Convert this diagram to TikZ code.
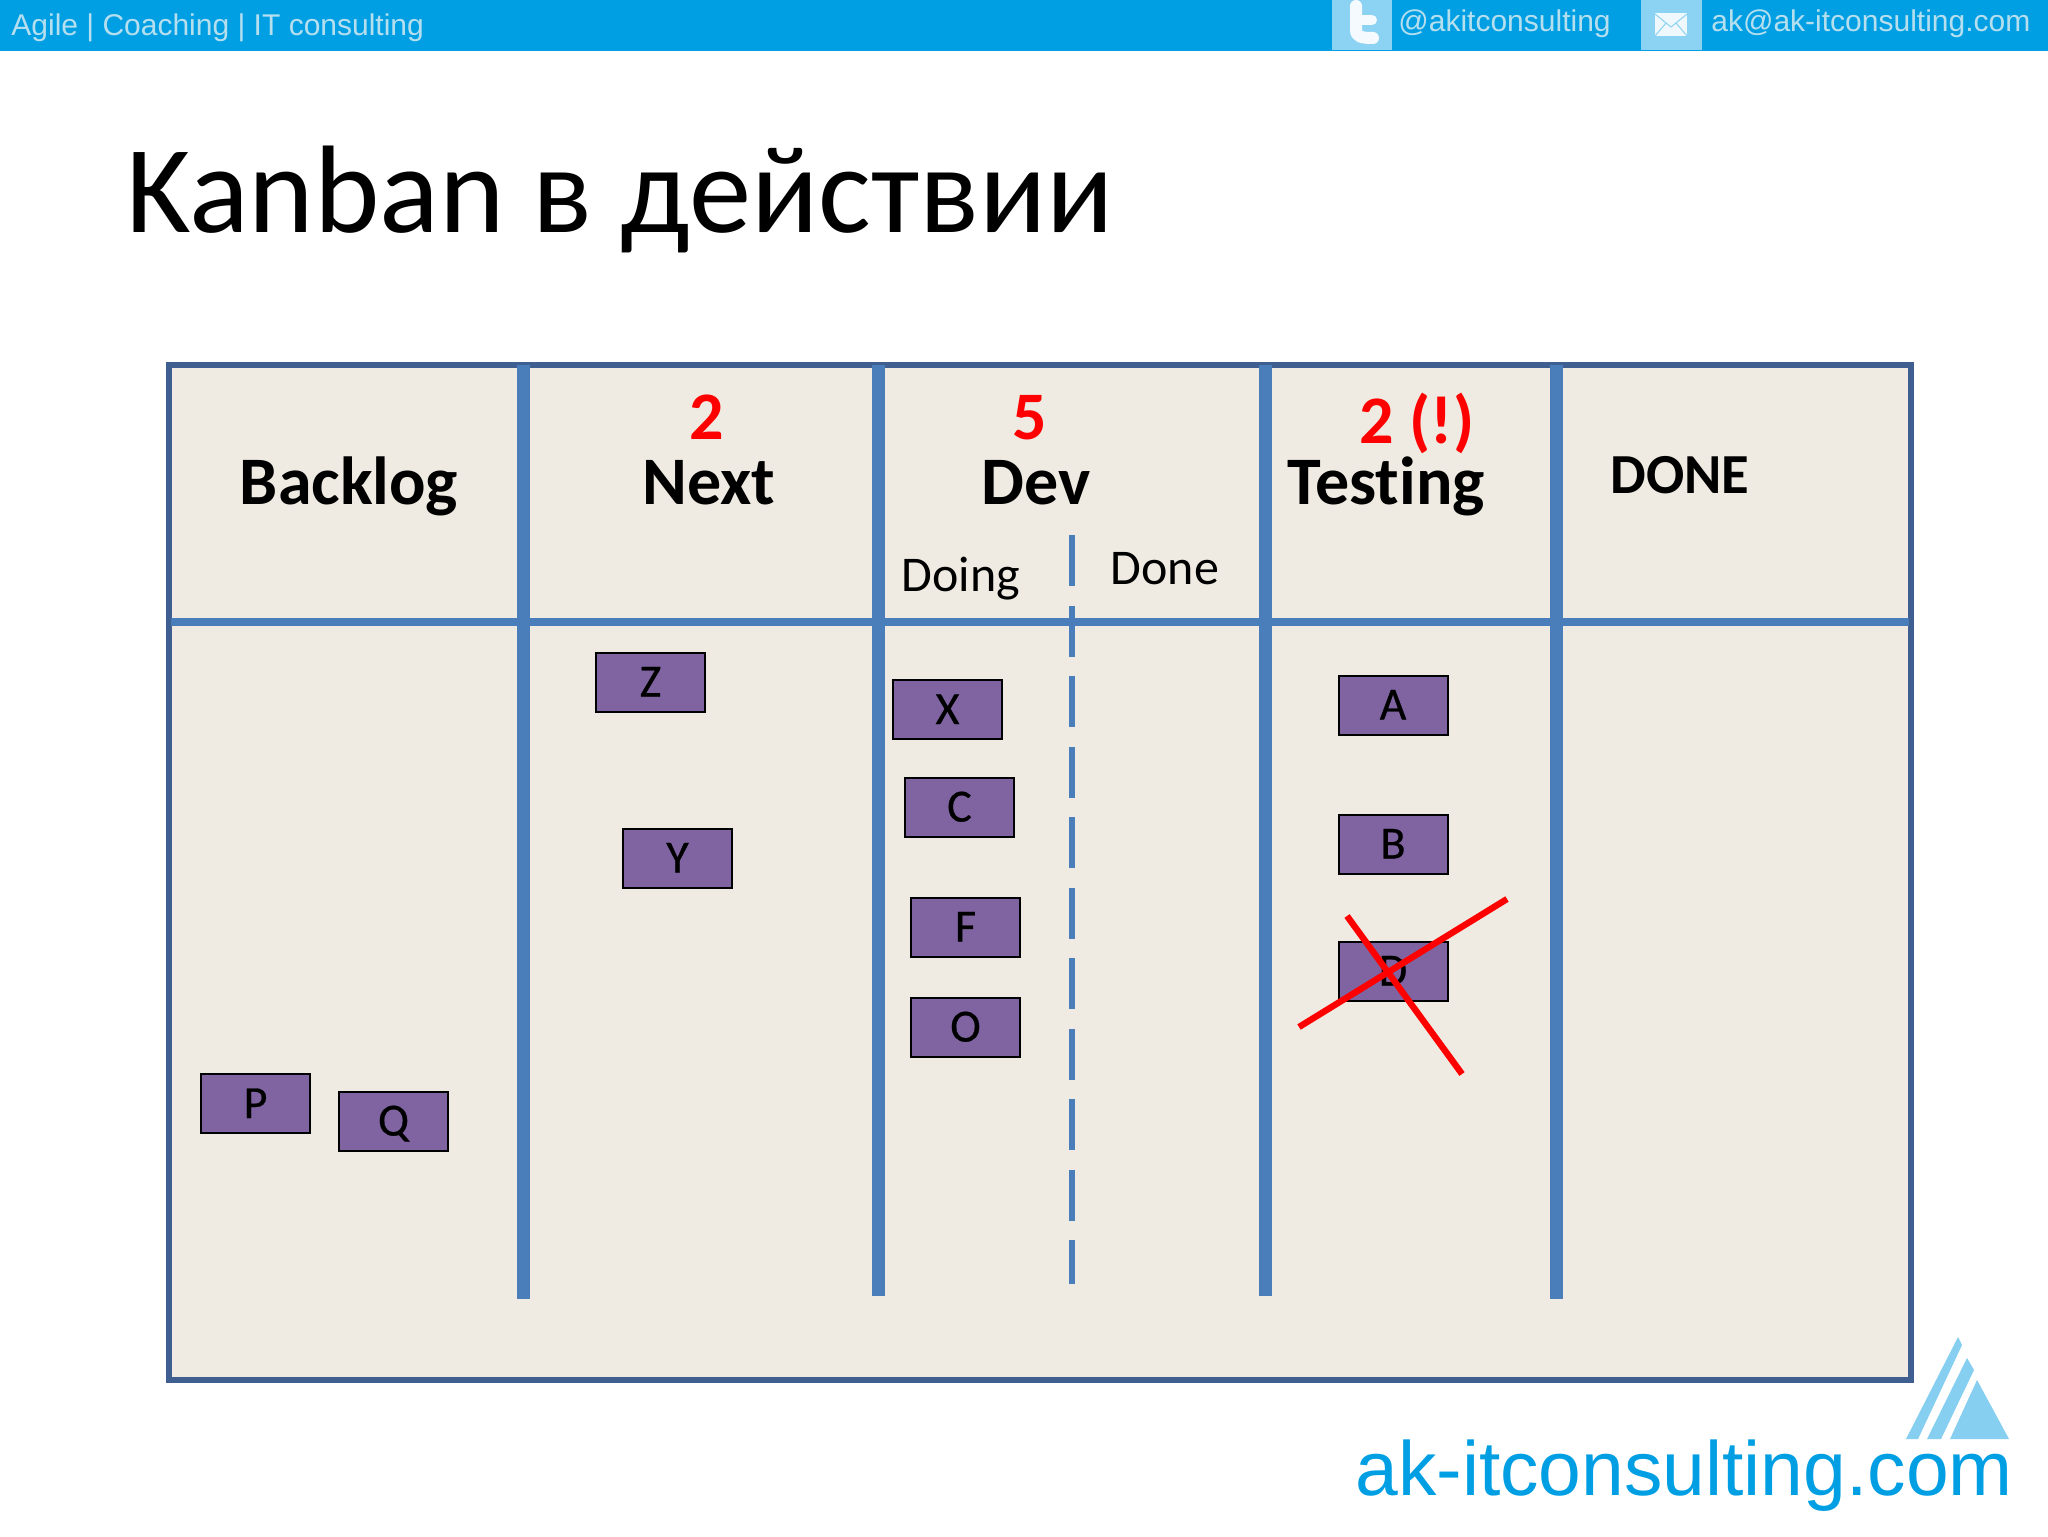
\documentclass[tikz,border=0pt]{standalone}
\usepackage{fontspec}
\usepackage{graphicx}
\setmainfont{Carlito}
\newfontfamily\arialf{Liberation Sans}
\newfontfamily\cardf[FakeBold=0.6]{Carlito}
\definecolor{barblue}{HTML}{009FE3}
\definecolor{barlight}{HTML}{8CD2F2}
\definecolor{bartext}{HTML}{B5DFEF}
\definecolor{boardfill}{HTML}{EFEBE2}
\definecolor{frameblue}{HTML}{3F5F91}
\definecolor{laneblue}{HTML}{4A7EBB}
\definecolor{cardpurple}{HTML}{8064A2}
\definecolor{logolight}{HTML}{86CFF0}
\tikzset{
  x=0.5pt,y=-0.5pt,
  lane/.style={draw=laneblue,line width=6.5pt},
  rowline/.style={draw=laneblue,line width=4pt},
  subline/.style={draw=laneblue,line width=3pt,dash pattern=on 25.5pt off 9.75pt},
  card/.style={draw=black,line width=1pt,fill=cardpurple,minimum width=54.5pt,minimum height=29.5pt,inner sep=0pt,font=\cardf\fontsize{23}{23}\selectfont,text height=14.5pt,text depth=0pt},
  head/.style={anchor=base,inner sep=0pt,font=\fontsize{34}{34}\selectfont\bfseries},
  limit/.style={anchor=base,inner sep=0pt,text=red,font=\fontsize{34}{34}\selectfont\bfseries},
  subhead/.style={anchor=base,inner sep=0pt,font=\fontsize{25}{25}\selectfont},
  bartxt/.style={anchor=base west,inner sep=0pt,text=bartext,font=\arialf\fontsize{15}{15}\selectfont},
  cross/.style={draw=red,line width=3.2pt},
}
\begin{document}
\begin{tikzpicture}
\useasboundingbox (0,0) rectangle (2048,1536);
\fill[white] (0,0) rectangle (2048,1536);
% top bar
\fill[barblue] (0,0) rectangle (2048,51);
\fill[barlight] (1332,0) rectangle (1392,50);
\fill[barlight] (1641,0) rectangle (1702,50);
\node[bartxt] (bar1) at (11,36) {Agile | Coaching | IT consulting};
\node[bartxt] (bar2) at (1398,32) {@akitconsulting};
\node[bartxt] (bar3) at (1711,32) {ak@ak-itconsulting.com};
% twitter t
\draw[white!90!barlight,line width=6pt,line cap=round,line join=round] (1356,6) -- (1356,30) .. controls (1356,37) and (1362,38) .. (1373,38);
\draw[white!90!barlight,line width=5pt,line cap=round] (1356,20) -- (1372,20);
% envelope
\fill[white!85!barlight] (1655,13) rectangle (1687,36);
\draw[barlight,line width=.5pt] (1655,14) -- (1671,27) -- (1687,14) (1655,36) -- (1666,23) (1687,36) -- (1676,23);
% title
\node[anchor=base west,inner sep=0pt,font=\fontsize{62.3}{62.3}\selectfont] (title) at (126,232) {Kanban в действии};
% board
\draw[draw=frameblue,line width=3pt,fill=boardfill] (168.5,365) rectangle (1911,1380);
\draw[rowline] (171,622) -- (1909,622);
\draw[lane] (523.5,365) -- (523.5,1299);
\draw[lane] (878.5,365) -- (878.5,1296);
\draw[lane] (1265.5,365) -- (1265.5,1296);
\draw[lane] (1556,365) -- (1556,1299);
\draw[subline] (1072,535) -- (1072,1284);
% headers
\node[head] (backlog) at (349,504.5) {Backlog};
\node[limit] (nextlim) at (707,439) {2};
\node[head] (next) at (709,504.5) {Next};
\node[limit] (devlim) at (1030,439) {5};
\node[head] (dev) at (1036,504.5) {Dev};
\node[subhead] (doing) at (961,591) {Doing};
\node[subhead] (done) at (1165,584) {Done};
\node[limit] (testlim) at (1417,443) {2 (!)};
\node[head] (testing) at (1386,504.5) {Test\kern0pt ing};
\node[head,font=\fontsize{28.3}{28.3}\selectfont\bfseries] (donecol) at (1680,493) {DONE};
% cards
\node[card] (z) at (650.5,682) {Z};
\node[card] (y) at (677.5,858) {Y};
\node[card] (xc) at (947.5,709.5) {X};
\node[card] (c) at (959.5,807) {C};
\node[card] (f) at (965.5,927) {F};
\node[card] (o) at (965.5,1027) {O};
\node[card] (a) at (1393,705) {A};
\node[card] (b) at (1393,844) {B};
\node[card] (d) at (1393,971) {D};
\node[card] (p) at (255.5,1103.5) {P};
\node[card] (q) at (393.5,1121) {Q};
% cross
\coordinate (c1a) at (1299,1027);
\coordinate (c1b) at (1507,899);
\coordinate (c2a) at (1347,916);
\coordinate (c2b) at (1462,1074);
\draw[cross] (c1a) -- (c1b);
\draw[cross] (c2a) -- (c2b);
% logo
\fill[logolight] (1977,1380) -- (2009,1439) -- (1950,1439) -- cycle;
\fill[logolight] (1958,1337) -- (1962,1345) -- (1918,1439) -- (1906,1439) -- cycle;
\fill[logolight] (1967,1358) -- (1974,1370) -- (1941,1439) -- (1927,1439) -- cycle;
\node[anchor=base west,inner sep=0pt,text=barblue,font=\arialf\fontsize{38.4}{38.4}\selectfont] (logo) at (1355,1495) {ak-itconsulting.com};
\end{tikzpicture}
\end{document}
